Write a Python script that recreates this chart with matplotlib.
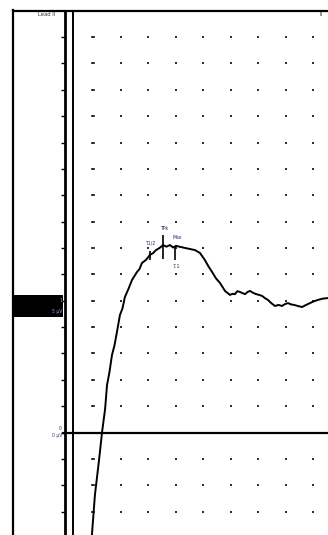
import numpy as np
import matplotlib.pyplot as plt
from matplotlib.lines import Line2D
from matplotlib.patches import Rectangle

# trace, in grid units (x: divisions, y: divisions above baseline)
trace_x = [0.96, 1.07, 1.22, 1.33, 1.44, 1.51, 1.60, 1.69, 1.78, 1.87, 1.98, 2.07,
           2.16, 2.29, 2.42, 2.60, 2.69, 2.78, 2.93, 3.07, 3.18, 3.29, 3.42, 3.55,
           3.67, 3.80, 3.91, 4.02, 4.18, 4.35, 4.53, 4.71, 4.89, 5.07, 5.20, 5.33,
           5.47, 5.62, 5.80, 5.98, 6.07, 6.16, 6.25, 6.35, 6.45, 6.53, 6.62, 6.71,
           6.82, 6.93, 7.04, 7.15, 7.25, 7.36, 7.49, 7.62, 7.75, 7.87, 7.98, 8.09,
           8.20, 8.31, 8.45, 8.60, 8.75, 8.89, 9.04, 9.18, 9.36, 9.55]
trace_y = [-3.89, -2.37, -1.04, 0.02, 0.89, 1.80, 2.30, 2.94, 3.30, 3.81, 4.46, 4.70,
           5.14, 5.45, 5.79, 6.09, 6.20, 6.43, 6.55, 6.74, 6.80, 6.92, 7.00, 7.11,
           7.05, 7.11, 7.02, 7.08, 7.04, 7.00, 6.96, 6.92, 6.81, 6.54, 6.30, 6.09,
           5.85, 5.67, 5.37, 5.22, 5.26, 5.25, 5.36, 5.33, 5.28, 5.25, 5.33, 5.37,
           5.30, 5.25, 5.22, 5.18, 5.10, 5.03, 4.90, 4.80, 4.84, 4.80, 4.87, 4.91,
           4.86, 4.84, 4.80, 4.76, 4.84, 4.91, 4.98, 5.03, 5.08, 5.10]

# cursor marks on the trace
mark_x = [3.07, 3.55, 3.98]
mark_lo = [6.55, 6.60, 6.55]
mark_hi = [6.90, 7.50, 7.05]
mark_txt = ["T1/2", "TPk", "Max", "7.1"]
mark_txt_x = [2.90, 3.45, 3.90, 3.90]
mark_txt_y = [7.20, 7.75, 7.38, 6.30]

grid_cols = np.arange(1, 10)
grid_rows = np.arange(-3, 16)

W, H = 328, 535
x0, xu = 65.5, 27.5
y0, yu = 432.5, 26.36

fig = plt.figure(figsize=(W / 100, H / 100), dpi=100)
ax = fig.add_axes([0, 0, 1, 1])
ax.axis('off')
ax.set_xlim(-x0 / xu, (W - x0) / xu)
ax.set_ylim(-(H - y0) / yu, y0 / yu)

def fx(p):
    return p / W

def fy(p):
    return 1 - p / H

# frame
fig.add_artist(Line2D([fx(13), fx(13)], [fy(10), 0], color='black', lw=1.6))
fig.add_artist(Line2D([fx(13), 1], [fy(10.8), fy(10.8)], color='black', lw=1.6))
fig.add_artist(Rectangle((fx(13), fy(316.5)), fx(63) - fx(13), fy(295) - fy(316.5),
                         color='black', lw=0))

# dotted grid
gx, gy = np.meshgrid(grid_cols, grid_rows[grid_rows != 0])
ax.plot(gx.ravel(), gy.ravel(), 's', color='#303030', ms=1.6, mew=0)
ax.plot(np.ones(len(grid_rows)) * 1.0, grid_rows, '_', color='#303030', ms=2.5, mew=1.2)

# axes lines
ax.plot([-0.03, -0.03], [-4, 15.95], color='black', lw=2.0)
ax.plot([0.26, 0.26], [-4, 15.95], color='black', lw=1.4)
ax.plot(np.full(len(grid_rows), -0.1), grid_rows, '_', color='black', ms=2.5, mew=1.0)
ax.plot([-0.1, 10], [0, 0], color='black', lw=1.6)

# trace
ax.plot(trace_x, trace_y, color='black', lw=1.4, solid_joinstyle='miter')
ax.vlines(mark_x, mark_lo, mark_hi, color='black', lw=1.2)
for t, tx, ty in zip(mark_txt, mark_txt_x, mark_txt_y):
    ax.text(tx, ty, t, fontsize=3.3, color='#202060', ha='left', va='center')

# labels
fig.text(fx(38), fy(14), "Lead II", fontsize=3.8, color='#403020', va='center')
fig.text(fx(319), fy(14), "II", fontsize=3.8, color='#403020', va='center')
fig.text(fx(62), fy(300), "1", fontsize=3.3, color='#c0a060', ha='right', va='center')
fig.text(fx(62), fy(311), "5 \u03bcV", fontsize=3.3, color='#a0a0d0', ha='right', va='center')
fig.text(fx(62), fy(428), "0", fontsize=3.3, color='#403070', ha='right', va='center')
fig.text(fx(62), fy(436), "0 \u03bcV", fontsize=3.3, color='#403070', ha='right', va='center')

fig.savefig('out.png', dpi=100)
